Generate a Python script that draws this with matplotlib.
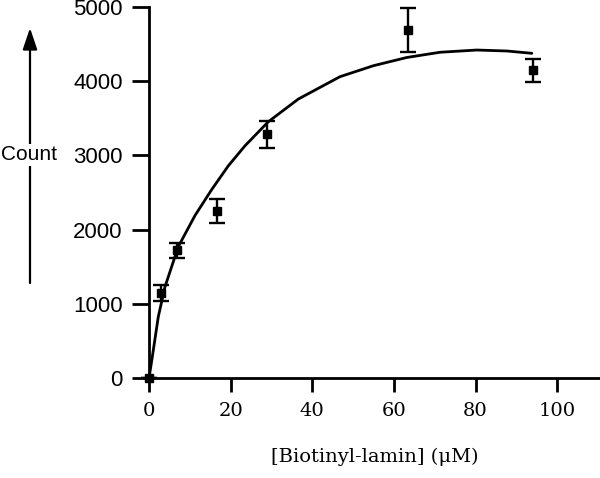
import matplotlib
matplotlib.use("Agg")
import matplotlib.pyplot as plt

# measured points (concentration in uM, count, error)
conc = [0, 2.9, 6.8, 16.6, 28.8, 63.5, 94.0]
count = [0, 1150, 1720, 2250, 3286, 4684, 4150]
err = [0, 108, 103, 158, 182, 297, 155]

# fitted curve
fit_x = [0, 0.66, 2.28, 3.92, 7.18, 11.27, 15.37, 19.44, 23.53, 29.24,
         36.6, 46.8, 55.0, 63.2, 71.3, 80.3, 87.7, 93.8]
fit_y = [0, 230, 826, 1230, 1770, 2190, 2540, 2860, 3130, 3454,
         3760, 4061, 4209, 4320, 4390, 4420, 4407, 4376]

xticks = [0, 20, 40, 60, 80, 100]
yticks = [0, 1000, 2000, 3000, 4000, 5000]

serif = "DejaVu Serif"
sans = "Liberation Sans"

fig = plt.figure(figsize=(6, 4.78), dpi=100)
ax = fig.add_axes([149 / 600, 1 - 378 / 478, 451 / 600, 371 / 478])

ax.plot(fit_x, fit_y, color="black", lw=2.0, solid_capstyle="round",
        solid_joinstyle="round")
ax.errorbar(conc, count, yerr=err, fmt="s", color="black", ms=6,
            ecolor="black", elinewidth=1.7, capsize=6, capthick=1.7,
            clip_on=False, zorder=3)

ax.set_xlim(0, 110.5)
ax.set_ylim(0, 5000)
for s in ["top", "right"]:
    ax.spines[s].set_visible(False)
for s in ["left", "bottom"]:
    ax.spines[s].set_linewidth(2.0)

ax.set_xticks(xticks)
ax.set_yticks(yticks)
ax.set_xticklabels([str(t) for t in xticks], family=serif, fontsize=14)
ax.set_yticklabels([str(t) for t in yticks], family=sans, fontsize=16)
ax.tick_params(axis="x", length=10, width=2.0, pad=7)
ax.tick_params(axis="y", length=12, width=2.0, pad=7)

ax.set_xlabel("[Biotinyl-lamin] (\u03bcM)", family=serif, fontsize=14,
              labelpad=20)

# vertical arrow with "Count" label on the left
ax.annotate("", xy=(30 / 600, 1 - 28 / 478), xytext=(30 / 600, 1 - 283 / 478),
            xycoords="figure fraction", textcoords="figure fraction",
            arrowprops=dict(arrowstyle="-|>,head_length=0.65,head_width=0.22",
                            lw=1.6, color="black", mutation_scale=20,
                            shrinkA=0, shrinkB=0))
fig.text(29 / 600, 1 - 155 / 478, "Count", family=sans, fontsize=15,
         ha="center", va="center",
         bbox=dict(facecolor="white", edgecolor="none", pad=1))

fig.savefig("out.png", dpi=100)
